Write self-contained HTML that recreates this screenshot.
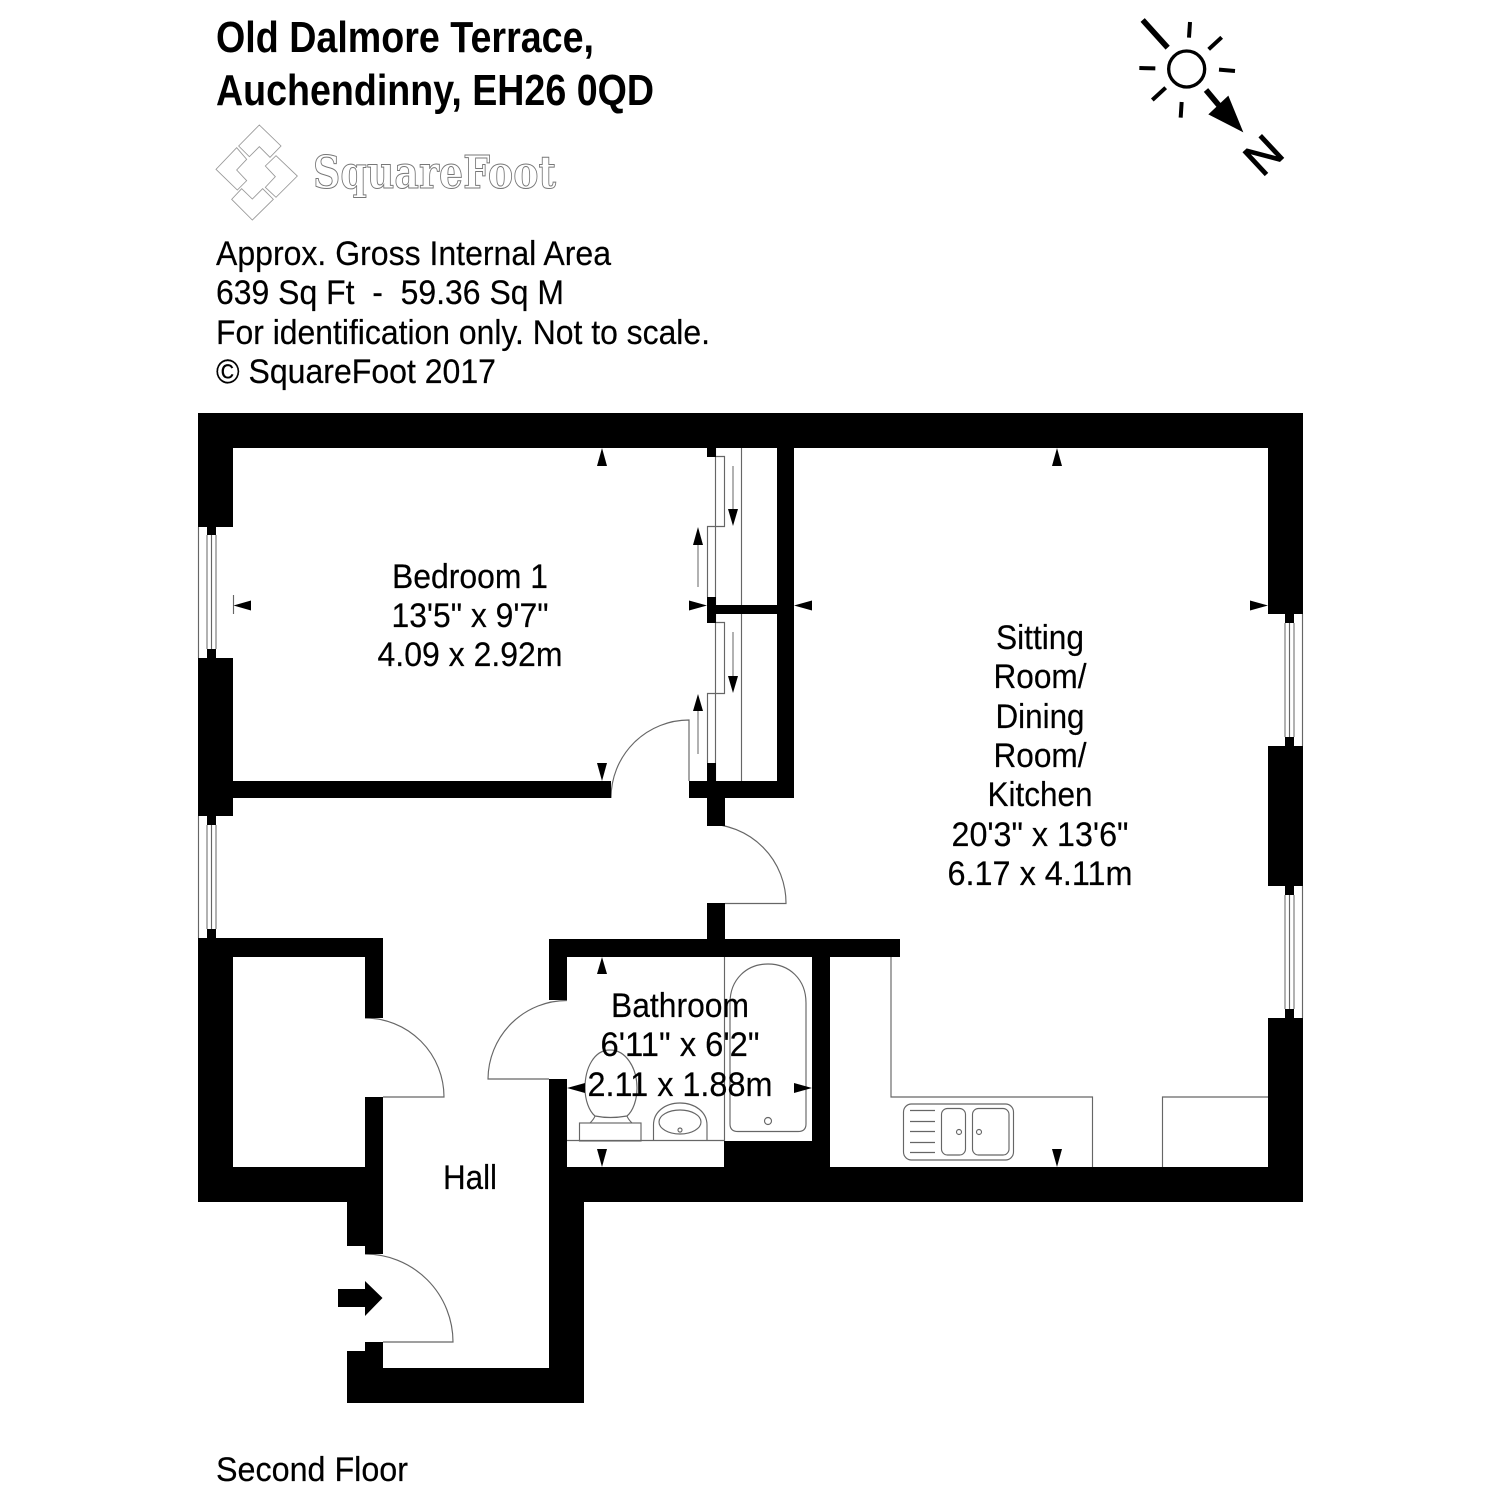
<!DOCTYPE html>
<html><head><meta charset="utf-8"><title>Old Dalmore Terrace floor plan</title>
<style>
html,body{margin:0;padding:0;background:#fff}
svg{display:block}
text{font-family:"Liberation Sans",Arial,sans-serif;fill:#000}
.t{font-size:44px;font-weight:bold}
.n{font-size:34px;stroke:#000;stroke-width:.2}
.walls rect{fill:#000}
.l path,.l line,.l rect,.l circle,.l ellipse{fill:none;stroke:#666;stroke-width:1.15}
.g line{stroke:#999;stroke-width:1.5}
</style></head>
<body>
<svg xmlns="http://www.w3.org/2000/svg" width="1500" height="1500" viewBox="0 0 1500 1500">
<rect width="1500" height="1500" fill="#fff"/>

<!-- Header -->
<text class="t" x="216" y="52" textLength="378" lengthAdjust="spacingAndGlyphs">Old Dalmore Terrace,</text>
<text class="t" x="216" y="105" textLength="438" lengthAdjust="spacingAndGlyphs">Auchendinny, EH26 0QD</text>

<g transform="translate(190,110) scale(.33333)" fill="#fff" stroke="#999" stroke-width="2.6" stroke-linejoin="miter">
<polygon points="208,45 273,108 240,142 208,110 178,140 146,108"/>
<polygon points="140,113 78,178 142,240 170,212 140,180 170,148"/>
<polygon points="258,137 322,198 258,262 226,232 256,200 226,168"/>
<polygon points="155,236 187,267 218,236 250,268 187,330 125,268"/>
</g>
<text x="313" y="188" textLength="243" lengthAdjust="spacingAndGlyphs" style="font-family:'DejaVu Serif','Liberation Serif',serif;font-size:45px;font-weight:bold;fill:#fff;stroke:#777;stroke-width:1">SquareFoot</text>

<text class="n" x="216" y="265" textLength="395" lengthAdjust="spacingAndGlyphs">Approx. Gross Internal Area</text>
<text class="n" x="216" y="304" textLength="348" lengthAdjust="spacingAndGlyphs" xml:space="preserve">639 Sq Ft  -  59.36 Sq M</text>
<text class="n" x="216" y="344" textLength="494" lengthAdjust="spacingAndGlyphs">For identification only. Not to scale.</text>
<text class="n" x="216" y="383" textLength="280" lengthAdjust="spacingAndGlyphs">© SquareFoot 2017</text>
<text class="n" x="216" y="1481" textLength="192" lengthAdjust="spacingAndGlyphs">Second Floor</text>

<!-- Compass -->
<g transform="translate(1120,10) scale(.33333)" stroke="#000" fill="none" stroke-linecap="butt">
<circle cx="200" cy="177" r="54" stroke-width="10" fill="#fff"/>
<line x1="68" y1="30" x2="143" y2="113" stroke-width="17"/>
<line x1="210" y1="36" x2="207" y2="83" stroke-width="12"/>
<line x1="305" y1="82" x2="266" y2="118" stroke-width="12"/>
<line x1="297" y1="179" x2="345" y2="183" stroke-width="12"/>
<line x1="58" y1="174" x2="106" y2="175" stroke-width="12"/>
<line x1="137" y1="233" x2="97" y2="270" stroke-width="12"/>
<line x1="185" y1="276" x2="182" y2="323" stroke-width="12"/>
<line x1="258" y1="240" x2="300" y2="290" stroke-width="17"/>
<polygon points="325,257 265,313 370,367" fill="#000" stroke="none"/>
</g>
<text transform="translate(1262,178) rotate(-43)" style="font-size:46px;stroke:#000;stroke-width:1">N</text>

<!-- Thin lines -->
<g class="l">
<!-- windows outer -->
<line x1="198.5" y1="527" x2="198.5" y2="658"/>
<line x1="198.5" y1="816" x2="198.5" y2="938"/>
<line x1="1302.5" y1="614" x2="1302.5" y2="746"/>
<line x1="1302.5" y1="886" x2="1302.5" y2="1018"/>
<line x1="211.5" y1="535" x2="211.5" y2="649"/>
<line x1="211.5" y1="825" x2="211.5" y2="929"/>
<line x1="1289.5" y1="623" x2="1289.5" y2="737"/>
<line x1="1289.5" y1="895" x2="1289.5" y2="1009"/>
<!-- wardrobe -->
<line x1="715.5" y1="448" x2="715.5" y2="781"/>
<line x1="741.5" y1="448" x2="741.5" y2="781"/>
<path d="M716 456.5H724.5V526.5H707.5V597"/>
<path d="M716 622.5H724.5V693.5H707.5V763"/>
<!-- doors -->
<path d="M611 798A78 78 0 0 1 689 720V781"/>
<path d="M707 824A79 79 0 0 1 786 903.5H725"/>
<path d="M365 1018A79 79 0 0 1 444 1097H383"/>
<path d="M567 1000.5A79 79 0 0 0 488 1079H549"/>
<path d="M365 1254A88 88 0 0 1 453 1342H383"/>
<!-- bathroom -->
<line x1="724.5" y1="957" x2="724.5" y2="1141"/>
<line x1="567" y1="1140.5" x2="725" y2="1140.5"/>
<path d="M730 1003C730 979 747 964 768 964C789 964 806 979 806 1003V1124Q806 1131.5 798 1131.5H738Q730 1131.5 730 1124Z"/>
<circle cx="768" cy="1121" r="3.5"/>
<rect x="579.5" y="1123" width="61.5" height="18"/>
<path d="M610 1050C594 1050 585 1068 585 1088C585 1100 589 1111 595 1116C594 1119 592 1121 590 1123M610 1050C626 1050 637 1068 637 1088C637 1100 633 1111 627 1116C628 1119 630 1121 632 1123M595 1116Q610 1119 627 1116"/>
<path d="M653.5 1141V1125C653.5 1112 665 1103 680 1103C695 1103 707 1112 707 1125V1141"/>
<ellipse cx="680" cy="1122" rx="21" ry="12"/>
<circle cx="680" cy="1130" r="2"/>
<!-- kitchen -->
<path d="M891 957V1097H1092.5V1167"/>
<path d="M1268 1097H1162.5V1167"/>
<rect x="903.5" y="1104" width="110" height="56" rx="8"/>
<line x1="910" y1="1110.5" x2="935" y2="1110.5"/>
<line x1="910" y1="1121.5" x2="935" y2="1121.5"/>
<line x1="910" y1="1131.5" x2="935" y2="1131.5"/>
<line x1="910" y1="1142.5" x2="935" y2="1142.5"/>
<line x1="910" y1="1152.5" x2="935" y2="1152.5"/>
<rect x="941.5" y="1108.5" width="24" height="46.5" rx="6"/>
<rect x="972.5" y="1108.5" width="36.5" height="46.5" rx="6"/>
<circle cx="959" cy="1132" r="2.5"/>
<circle cx="979" cy="1132" r="2.5"/>
<!-- tick -->
<line x1="233.5" y1="595" x2="233.5" y2="614"/>
</g>

<g class="g">
<line x1="207" y1="535" x2="207" y2="649"/><line x1="216" y1="535" x2="216" y2="649"/>
<line x1="207" y1="825" x2="207" y2="929"/><line x1="216" y1="825" x2="216" y2="929"/>
<line x1="1285" y1="623" x2="1285" y2="737"/><line x1="1294" y1="623" x2="1294" y2="737"/>
<line x1="1285" y1="895" x2="1285" y2="1009"/><line x1="1294" y1="895" x2="1294" y2="1009"/>
<line x1="733" y1="466" x2="733" y2="510"/><line x1="698" y1="587" x2="698" y2="544"/>
<line x1="733" y1="632" x2="733" y2="677"/><line x1="698" y1="754" x2="698" y2="710"/>
</g>

<!-- Walls -->
<g class="walls" shape-rendering="crispEdges">
<rect x="198" y="413" width="1105" height="35"/>
<rect x="198" y="413" width="35" height="114"/>
<rect x="207" y="527" width="9" height="8"/>
<rect x="207" y="649" width="9" height="9"/>
<rect x="198" y="658" width="35" height="158"/>
<rect x="207" y="816" width="9" height="9"/>
<rect x="207" y="929" width="9" height="9"/>
<rect x="198" y="938" width="35" height="264"/>
<rect x="198" y="938" width="185" height="19"/>
<rect x="233" y="781" width="378" height="17"/>
<rect x="365" y="938" width="18" height="80"/>
<rect x="365" y="1097" width="18" height="157"/>
<rect x="198" y="1167" width="185" height="35"/>
<rect x="347" y="1202" width="36" height="44"/>
<rect x="365" y="1342" width="18" height="61"/>
<rect x="347" y="1351" width="36" height="52"/>
<rect x="347" y="1368" width="237" height="35"/>
<rect x="549" y="1167" width="35" height="236"/>
<rect x="549" y="939" width="18" height="61"/>
<rect x="549" y="1079" width="18" height="88"/>
<rect x="549" y="939" width="351" height="18"/>
<rect x="707" y="903" width="18" height="36"/>
<rect x="724" y="1141" width="88" height="26"/>
<rect x="812" y="957" width="18" height="210"/>
<rect x="549" y="1167" width="754" height="35"/>
<rect x="1268" y="413" width="35" height="201"/>
<rect x="1285" y="614" width="9" height="9"/>
<rect x="1285" y="737" width="9" height="9"/>
<rect x="1268" y="746" width="35" height="140"/>
<rect x="1285" y="886" width="9" height="9"/>
<rect x="1285" y="1009" width="9" height="9"/>
<rect x="1268" y="1018" width="35" height="184"/>
<rect x="777" y="448" width="17" height="350"/>
<rect x="689" y="781" width="105" height="17"/>
<rect x="707" y="798" width="18" height="28"/>
<rect x="707" y="448" width="9" height="9"/>
<rect x="707" y="597" width="9" height="26"/>
<rect x="707" y="763" width="9" height="18"/>
<rect x="715" y="605" width="62" height="9"/>
</g>

<!-- Arrows -->
<g fill="#000">
<polygon points="338,1289 365,1289 365,1281 382.5,1298 365,1316 365,1307 338,1307"/>
<polygon points="602,448 597,466 607,466"/>
<polygon points="602,781 597,763 607,763"/>
<polygon points="233.5,605.5 251,600.5 251,610.5"/>
<polygon points="707,605.5 689,600.5 689,610.5"/>
<polygon points="794,605.5 812,600.5 812,610.5"/>
<polygon points="1057,448 1052,466 1062,466"/>
<polygon points="1268,605.5 1250,600.5 1250,610.5"/>
<polygon points="1057,1167 1052,1149 1062,1149"/>
<polygon points="602,957 597,974 607,974"/>
<polygon points="602,1167 597,1149 607,1149"/>
<polygon points="567,1088 585,1083 585,1093"/>
<polygon points="812,1088 794,1083 794,1093"/>
<polygon points="733,526 728,509 738,509"/>
<polygon points="698,527 693,545 703,545"/>
<polygon points="733,693 728,676 738,676"/>
<polygon points="698,694 693,711 703,711"/>
</g>

<!-- Room labels -->
<g text-anchor="middle">
<text class="n" x="470" y="588" textLength="156" lengthAdjust="spacingAndGlyphs">Bedroom 1</text>
<text class="n" x="470" y="627" textLength="157" lengthAdjust="spacingAndGlyphs">13'5" x 9'7"</text>
<text class="n" x="470" y="666" textLength="185" lengthAdjust="spacingAndGlyphs">4.09 x 2.92m</text>
<text class="n" x="1040" y="649" textLength="88" lengthAdjust="spacingAndGlyphs">Sitting</text>
<text class="n" x="1040" y="688" textLength="93" lengthAdjust="spacingAndGlyphs">Room/</text>
<text class="n" x="1040" y="728" textLength="89" lengthAdjust="spacingAndGlyphs">Dining</text>
<text class="n" x="1040" y="767" textLength="93" lengthAdjust="spacingAndGlyphs">Room/</text>
<text class="n" x="1040" y="806" textLength="105" lengthAdjust="spacingAndGlyphs">Kitchen</text>
<text class="n" x="1040" y="846" textLength="177" lengthAdjust="spacingAndGlyphs">20'3" x 13'6"</text>
<text class="n" x="1040" y="885" textLength="185" lengthAdjust="spacingAndGlyphs">6.17 x 4.11m</text>
<text class="n" x="680" y="1017" textLength="138" lengthAdjust="spacingAndGlyphs">Bathroom</text>
<text class="n" x="680" y="1056" textLength="159" lengthAdjust="spacingAndGlyphs">6'11" x 6'2"</text>
<text class="n" x="680" y="1096" textLength="185" lengthAdjust="spacingAndGlyphs">2.11 x 1.88m</text>
<text class="n" x="470" y="1189" textLength="54" lengthAdjust="spacingAndGlyphs">Hall</text>
</g>
</svg>
</body></html>
